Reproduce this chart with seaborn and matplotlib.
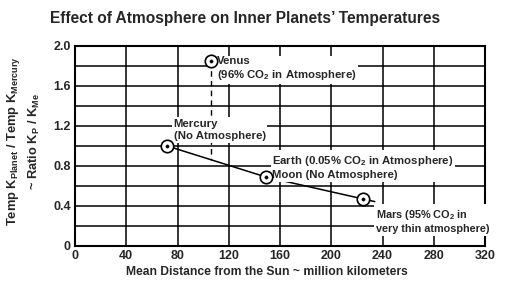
import numpy as np
import pandas as pd
import matplotlib
matplotlib.use("Agg")
import matplotlib.pyplot as plt
import seaborn as sns

# ---- data ----
bodies = ["Mercury", "Venus", "Earth", "Mars"]
distance = [72, 106, 149, 225]          # million km
ratio = [1.00, 1.85, 0.69, 0.47]        # Temp K planet / Temp K Mercury
trend_bodies = ["Mercury", "Earth", "Mars"]
labels = {
    "Mercury": "Mercury\n(No Atmosphere)",
    "Venus": "Venus\n(96% CO$_2$ in Atmosphere)",
    "Earth": "Earth (0.05% CO$_2$ in Atmosphere)\nMoon (No Atmosphere)",
    "Mars": "Mars (95% CO$_2$ in\nvery thin atmosphere)",
}
xticks = [0, 40, 80, 120, 160, 200, 240, 280, 320]
yticks = [0, 0.4, 0.8, 1.2, 1.6, 2.0]
ytick_labels = ["0", "0.4", "0.8", "1.2", "1.6", "2.0"]

df = pd.DataFrame({"body": bodies, "distance": distance, "ratio": ratio})

sns.set_style("white")
plt.rcParams["font.family"] = ["Liberation Sans", "DejaVu Sans"]
plt.rcParams["font.weight"] = "bold"
plt.rcParams["mathtext.fontset"] = "custom"
plt.rcParams["mathtext.rm"] = "Liberation Sans:bold"
plt.rcParams["mathtext.bf"] = "Liberation Sans:bold"
plt.rcParams["mathtext.default"] = "rm"

fig = plt.figure(figsize=(5.06, 2.89), dpi=100)
ax = fig.add_axes([75 / 506, 1 - 246 / 289, 410 / 506, 200 / 289])

# trend line through Mercury, Earth, Mars, extended slightly past Mars
tr = df[df["body"].isin(trend_bodies)].sort_values("distance")
tx = tr["distance"].to_numpy(float)
ty = tr["ratio"].to_numpy(float)
slope = (ty[-1] - ty[-2]) / (tx[-1] - tx[-2])
ext_x = tx[-1] + 9
line_df = pd.DataFrame({"distance": np.append(tx, ext_x),
                        "ratio": np.append(ty, ty[-1] + slope * 9)})
sns.lineplot(data=line_df, x="distance", y="ratio", ax=ax, color="black",
             linewidth=1.1, zorder=3, sort=True)

# dashed drop line from Venus to the trend
v = df[df["body"] == "Venus"].iloc[0]
y_on_trend = np.interp(v["distance"], tx, ty)
ax.plot([v["distance"], v["distance"]], [v["ratio"], y_on_trend],
        color="black", linestyle=(0, (4, 3)), linewidth=1.0, zorder=3)

# markers: circle with centre dot
sns.scatterplot(data=df, x="distance", y="ratio", ax=ax, s=80,
                facecolor="white", edgecolor="black", linewidth=1.2,
                zorder=5, legend=False)
sns.scatterplot(data=df, x="distance", y="ratio", ax=ax, s=6,
                color="black", edgecolor="black", zorder=6, legend=False)

# annotations (white boxes hide grid lines)
offsets = {"Mercury": (5, 1.16), "Venus": (5, 1.77), "Earth": (5, 0.79), "Mars": (10, 0.25)}
sizes = {"Mercury": 8.2, "Venus": 8.2, "Earth": 8.2, "Mars": 7.8}
for b in bodies:
    row = df[df["body"] == b].iloc[0]
    dx, ty_ = offsets[b]
    ax.text(row["distance"] + dx, ty_, labels[b], fontsize=sizes[b], fontweight="bold",
            ha="left", va="center", linespacing=1.25, zorder=4,
            bbox=dict(boxstyle="square,pad=0.15", facecolor="white", edgecolor="none"))

ax.set_xlim(0, 320)
ax.set_ylim(0, 2.0)
ax.set_xticks(xticks)
ax.set_xticklabels([str(t) for t in xticks], fontsize=9, fontweight="bold")
ax.set_yticks(yticks)
ax.set_yticklabels(ytick_labels, fontsize=9, fontweight="bold")
ax.set_yticks(np.arange(0, 2.01, 0.2), minor=True)
ax.grid(True, which="both", color="black", linewidth=1.1)
ax.tick_params(which="both", length=0, pad=3)
for s in ax.spines.values():
    s.set_color("black")
    s.set_linewidth(1.5)
ax.set_axisbelow(True)

ax.set_xlabel("Mean Distance from the Sun ~ million kilometers", fontsize=8.7,
              fontweight="bold", labelpad=3)
ax.xaxis.label.set_x((267 - 75) / 410)
ax.set_ylabel("Temp K$_{Planet}$ / Temp K$_{Mercury}$\n~ Ratio K$_{P}$ / K$_{Me}$",
              fontsize=9.3, fontweight="bold", labelpad=8, linespacing=1.45)
ax.yaxis.label.set_y((246 - 141) / 200)
fig.text(245 / 506, 1 - 18 / 289, "Effect of Atmosphere on Inner Planets\u2019 Temperatures",
         fontsize=11.2, fontweight="bold", ha="center", va="center")

fig.savefig("out.png", dpi=100)
